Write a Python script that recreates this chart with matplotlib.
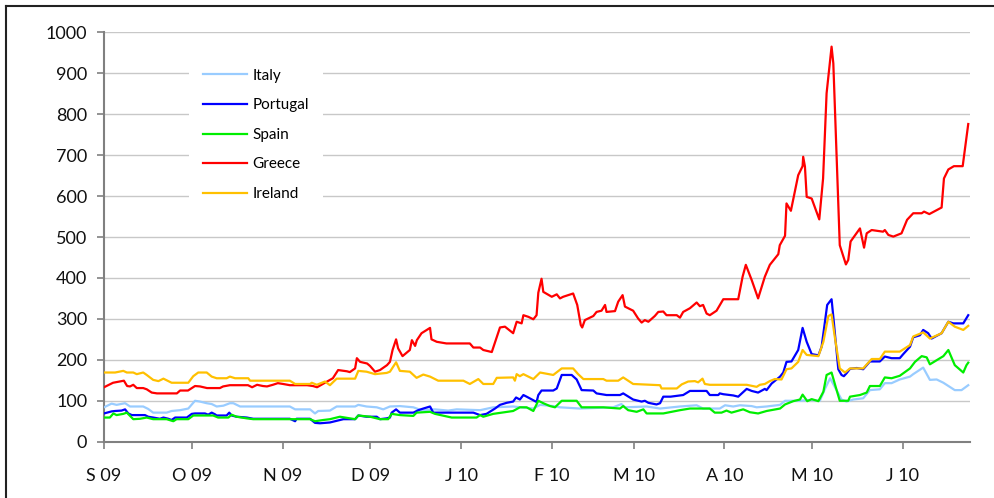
import matplotlib.pyplot as plt
from matplotlib.lines import Line2D

plt.rcParams['font.family'] = ['Lato', 'DejaVu Sans']

# x values are days since 1 Sep 2009
month_days = [0, 30, 61, 91, 122, 153, 181, 212, 242, 273]
month_labels = ['S 09', 'O 09', 'N 09', 'D 09', 'J 10', 'F 10', 'M 10', 'A 10', 'M 10', 'J 10']

italy_day = [0, 2.6, 4.3, 7.2, 8.9, 13.4, 15.1, 16.8, 21.4, 23.1, 26, 28.8, 31.1, 32.8, 35.1, 36.8, 38.5, 40.8, 43, 44.2,
             46.5, 63.5, 65.3, 70.4, 72.1, 73.2, 77.2, 79.5, 85.8, 86.9, 89.7, 93.2, 95.4, 97.7, 101.1, 105.7, 108.5,
             113.1, 117.6, 120.5, 128.5, 133, 139.8, 146.7, 149, 153.5, 155.8, 162.6, 174, 176.8, 178, 185.4, 190,
             196.8, 202.5, 204.7, 210.4, 212.2, 215, 217.3, 221.3, 223, 226.4, 231, 232.7, 237.8, 241.2, 244.6, 246.4,
             248.1, 250.3, 252, 253.7, 256, 259.4, 261.7, 265.1, 266.8, 269.1, 271.9, 275.4, 276.5, 279.9, 282.2,
             284.5, 286.8, 290.7, 293, 295.3]
italy_val = [84, 93, 90, 94, 86, 86, 80, 71, 71, 75, 77, 81, 100, 98, 94, 92, 86, 88, 94, 94,
             86, 86, 79, 79, 69, 75, 76, 86, 86, 90, 86, 84, 79, 86, 87, 84, 77,
             79, 76, 79, 77, 84, 86, 81, 90, 87, 84, 81, 84, 92, 84, 86, 81,
             86, 89, 81, 81, 89, 86, 89, 87, 84, 86, 90, 100, 100, 102, 100, 130,
             155, 126, 103, 98, 103, 106, 126, 128, 143, 143, 152, 159, 165, 181, 151,
             152, 144, 126, 126, 138]

portugal_day = [0, 2.6, 3.8, 6, 7.2, 8.3, 9.5, 14, 15.1, 16.8, 19.1, 20.3, 22, 23.1, 24.3, 28.3, 30, 31.1, 34.5, 35.6,
                36.8, 37.9, 38.5, 41.9, 42.8, 43.6, 45.3, 48.8, 51, 63.5, 65.3, 65.8, 70.4, 72.1, 73.8, 77.2, 79.5,
                81.8, 85.8, 86.9, 89.7, 93.2, 94.3, 96.6, 97.7, 98.3, 99.8, 101.1, 105.7, 107.4, 109.1, 111.4, 112.5,
                126.2, 128.5, 130.7, 133.6, 135.3, 137.6, 139.8, 140.8, 142.1, 143.3, 144.4, 147.3, 147.8, 148.4,
                149.5, 153.5, 154.7, 156.4, 159.8, 161.5, 163.2, 167.2, 168.3, 171.7, 176.3, 177.4, 180.8, 183.7,
                184.8, 186, 188.8, 190, 191.1, 193.6, 197.9, 200.2, 205.9, 207, 209.9, 210.4, 211.6, 215, 216.7,
                219.6, 221.3, 223.5, 225.8, 226.4, 228.1, 231, 232.1, 233.2, 234.9, 237.2, 238.7, 240.1, 241.8,
                244.1, 245.2, 247.1, 248.6, 249.2, 250.9, 252, 252.8, 253.7, 254.9, 257.2, 259.4, 261.7, 265.1,
                266.8, 269.1, 271.9, 273.1, 275.4, 276.5, 278.8, 279.9, 281.6, 282.8, 286.2, 288.5, 290.2, 293.6, 295.3]
portugal_val = [69, 74, 75, 76, 79, 69, 65, 65, 61, 59, 56, 59, 56, 53, 59, 59, 68, 69, 69, 66,
                71, 67, 64, 64, 71, 64, 61, 59, 56, 56, 50, 56, 56, 46, 45, 47, 51,
                55, 55, 64, 61, 61, 55, 57, 59, 71, 79, 71, 71, 77, 81, 86, 71,
                71, 65, 68, 81, 90, 95, 98, 108, 103, 114, 110, 99, 97, 114,
                125, 125, 130, 163, 163, 152, 126, 125, 118, 114, 114, 118, 103, 98,
                100, 95, 91, 94, 110, 110, 114, 124, 124, 114, 114, 118, 116, 113, 110,
                129, 124, 120, 129, 126, 142, 159, 169, 195, 196, 224, 278, 244, 214,
                211, 232, 334, 348, 305, 177, 163, 160, 167, 178, 180, 177, 196, 196,
                208, 204, 204, 214, 232, 255, 260, 273, 265, 252, 265, 293, 289, 289, 309]

spain_day = [0, 2, 3.2, 4.3, 6.6, 7.8, 10, 12.3, 14.6, 16.8, 21.4, 23.7, 24.8, 28.8, 30.5, 37.3, 39, 42.5, 43.6, 45.3,
             48.8, 51, 70.4, 72.1, 74.9, 77.2, 80.6, 85.8, 86.9, 90.9, 94.3, 97.1, 98.3, 101.1, 105.7, 106.8, 111.4,
             113.1, 118.8, 127.3, 128.5, 129.6, 133, 139.8, 142.1, 144.4, 146.7, 148.4, 150.1, 152.4, 154.1, 156.4,
             161.5, 163.2, 170.6, 176.3, 177.4, 179.1, 182, 184.3, 185.4, 191.1, 196.8, 200.2, 207, 208.7, 211,
             212.7, 214.4, 218.4, 220.7, 223.5, 226.4, 231, 232.7, 235.5, 237.8, 238.7, 240.3, 241.8, 244.1, 245.8,
             246.9, 248.6, 250, 251.4, 254.3, 254.9, 258.3, 260.6, 261.7, 265.1, 266.8, 269.1, 271.9, 275.4, 277.1,
             279.4, 281.1, 282.2, 286.8, 288.5, 290.7, 293.6, 294.7, 295.3]
spain_val = [59, 59, 69, 65, 68, 71, 55, 56, 59, 55, 55, 50, 55, 55, 64, 64, 59, 59, 66, 61,
             57, 55, 55, 50, 53, 55, 61, 55, 64, 61, 55, 55, 68, 65, 63, 71, 73,
             68, 59, 59, 65, 61, 68, 75, 84, 84, 75, 100, 94, 87, 84, 100,
             100, 84, 84, 81, 87, 77, 73, 79, 69, 69, 77, 81, 81, 71, 71,
             76, 71, 79, 72, 69, 75, 81, 91, 99, 103, 115, 99, 104, 99, 122,
             163, 169, 134, 100, 100, 110, 114, 120, 136, 136, 157, 155, 161, 179, 195,
             209, 206, 189, 209, 224, 187, 169, 187, 193]

greece_day = [0, 3.1, 6.8, 7.9, 8.9, 10, 11.2, 13.4, 14.6, 16.3, 18.1, 24.9, 26, 28.7, 31.1, 32.8, 35.2, 39.6, 40.7,
              43, 49.2, 50.6, 52.3, 54.3, 55.7, 57.7, 59.4, 61.2, 63.5, 69.4, 71.4, 72.8, 77.2, 78.2, 80, 83, 84,
              85.8, 86.4, 87.5, 89.9, 90.9, 92.6, 94.3, 96.7, 97.7, 98.6, 99.8, 100.5, 102, 104.5, 105.2, 106.3,
              106.9, 108.5, 111.4, 111.9, 113.7, 117, 125, 126.2, 128.5, 129.6, 132.5, 135.3, 137, 139.8, 141,
              142.7, 143.3, 145, 146.7, 147.8, 148.4, 149.5, 150.1, 153, 154.7, 155.8, 156.9, 160.3, 161.7, 162.9,
              163.4, 164.3, 167.2, 168.3, 170, 171.2, 171.7, 174.6, 175.7, 177.2, 178, 180.8, 182.5, 183.7, 184.8,
              186, 188.2, 189.4, 191.1, 192.2, 195.7, 196.8, 197.9, 200.2, 202.5, 203.6, 204.7, 205.9, 207, 209.3,
              211.6, 216.7, 218.2, 219.3, 221.3, 223.5, 225.8, 227.5, 230.4, 230.9, 232.7, 233.2, 234.7, 237.2,
              238.7, 238.9, 239.5, 240.1, 241.8, 244.4, 245.7, 246.9, 248.6, 249.2, 251.4, 253.5, 254.3, 255.1,
              258.3, 259.7, 260.6, 262.3, 266.2, 266.8, 268, 269.7, 272.5, 274.4, 276.5, 279.4, 280.2, 282, 286.2,
              287, 288.5, 290.4, 293.4, 295.3]
greece_val = [133, 144, 149, 136, 135, 139, 131, 131, 128, 120, 118, 118, 125, 125, 136, 135, 131, 131, 135,
              138, 138, 133, 139, 136, 135, 139, 143, 141, 138, 138, 136, 133, 151, 155, 175, 172, 170,
              179, 204, 195, 191, 185, 171, 175, 187, 195, 224, 250, 228, 209, 224, 248, 234,
              248, 265, 278, 250, 244, 240, 240, 230, 230, 224, 219, 279, 281, 265, 293,
              289, 309, 305, 299, 309, 364, 398, 366, 354, 360, 350, 354, 362, 334, 285,
              279, 297, 307, 317, 320, 334, 317, 319, 342, 358, 330, 320, 301, 291, 297,
              293, 307, 317, 318, 309, 309, 303, 317, 326, 340, 331, 334, 313, 309, 320,
              348, 348, 403, 432, 395, 350, 403, 432, 458, 480, 503, 582, 564, 651,
              673, 696, 672, 598, 594, 543, 643, 851, 965, 924, 480, 433, 444, 489,
              521, 474, 509, 517, 513, 517, 505, 501, 509, 542, 558, 558, 562, 556, 572,
              643, 665, 673, 673, 776]

ireland_day = [0, 3.8, 6.6, 7.8, 10, 11.2, 13.4, 14.6, 16.8, 18.6, 20.3, 23.1, 28.8, 30.5, 32.2, 35.1, 36.8, 38.5,
               41.9, 43, 44.8, 49.3, 49.9, 63.5, 65.3, 70.4, 71, 72.7, 75.5, 77.2, 79.5, 85.8, 86.9, 89.7, 92.6,
               96.6, 97.7, 99.8, 101.1, 104.5, 106.8, 109.1, 111.4, 114.2, 122.8, 125, 127.9, 129.6, 133, 134.2,
               139.8, 140.4, 141, 142.1, 143.3, 146.7, 149, 153.5, 156.4, 160.3, 162, 163.8, 170.6, 171.7, 175.7,
               177.4, 180.8, 190, 190.5, 195.7, 197.4, 199.6, 201.9, 203, 204.5, 205.3, 207, 219.6, 223, 224.1,
               225.8, 227.5, 229.2, 231.5, 233.2, 234.9, 237.2, 238.7, 240.1, 244.1, 245.8, 247.5, 248.6, 249.7,
               251.4, 253.2, 254.9, 259.4, 262.3, 265.1, 266.8, 271.9, 275.4, 276.5, 279.9, 282.2, 286.2, 288.5,
               290.7, 293.6, 295.3]
ireland_val = [169, 169, 173, 169, 169, 165, 169, 163, 151, 148, 154, 144, 144, 160, 169, 169, 159, 155,
               155, 159, 155, 155, 149, 149, 141, 141, 144, 139, 147, 138, 154, 154, 173, 171, 165,
               168, 171, 194, 173, 171, 156, 164, 159, 149, 149, 141, 153, 141, 141, 156,
               157, 149, 165, 160, 165, 153, 169, 163, 179, 179, 165, 153, 153, 149, 149,
               157, 141, 138, 130, 130, 140, 147, 148, 145, 154, 141, 139, 139, 134, 139,
               141, 148, 153, 152, 177, 179, 195, 224, 212, 209, 244, 307, 311, 256,
               179, 169, 179, 179, 202, 202, 220, 220, 236, 257, 267, 252, 265, 293,
               281, 273, 283]

series = [
    ('Italy', italy_day, italy_val, '#99ccff'),
    ('Portugal', portugal_day, portugal_val, '#0000ff'),
    ('Spain', spain_day, spain_val, '#00ee00'),
    ('Greece', greece_day, greece_val, '#ff0000'),
    ('Ireland', ireland_day, ireland_val, '#ffc000'),
]

fig = plt.figure(figsize=(9.94, 4.98), dpi=100)
ax = fig.add_axes([104/994, 1 - 441.7/498, 866/994, (441.7 - 32.3)/498])

for name, d, v, c in series:
    ax.plot(d, v, color=c, lw=1.6, label=name, zorder=3)

ax.set_xlim(0, 295.9)
ax.set_ylim(0, 1000)
ax.set_yticks(range(0, 1001, 100))
ax.set_xticks(month_days)
ax.set_xticklabels(month_labels)

ax.yaxis.grid(True, color='#c8c8c8', lw=1.0)
ax.set_axisbelow(True)
for s in ['top', 'right']:
    ax.spines[s].set_visible(False)
for s in ['left', 'bottom']:
    ax.spines[s].set_color('#808080')
    ax.spines[s].set_linewidth(1.5)
ax.tick_params(axis='both', color='#808080', width=1.2, length=5, labelsize=13, labelcolor='#111111')
ax.tick_params(axis='x', pad=14)
ax.tick_params(axis='y', pad=7)

leg = ax.legend(loc='upper left', bbox_to_anchor=(189/994, 1 - 55/498), bbox_transform=fig.transFigure,
                frameon=True, fancybox=False, edgecolor='none', facecolor='white', framealpha=1,
                borderaxespad=0, borderpad=0.9, handlelength=2.9, handletextpad=0.35, labelspacing=1.02,
                fontsize=11)

# outer frame (only left and top edges are visible)
fig.add_artist(Line2D([6/994, 6/994], [0, 1 - 6/498], color='#222222', lw=1.5))
fig.add_artist(Line2D([6/994, 1], [1 - 6/498, 1 - 6/498], color='#222222', lw=1.5))

fig.savefig('out.png', dpi=100)
